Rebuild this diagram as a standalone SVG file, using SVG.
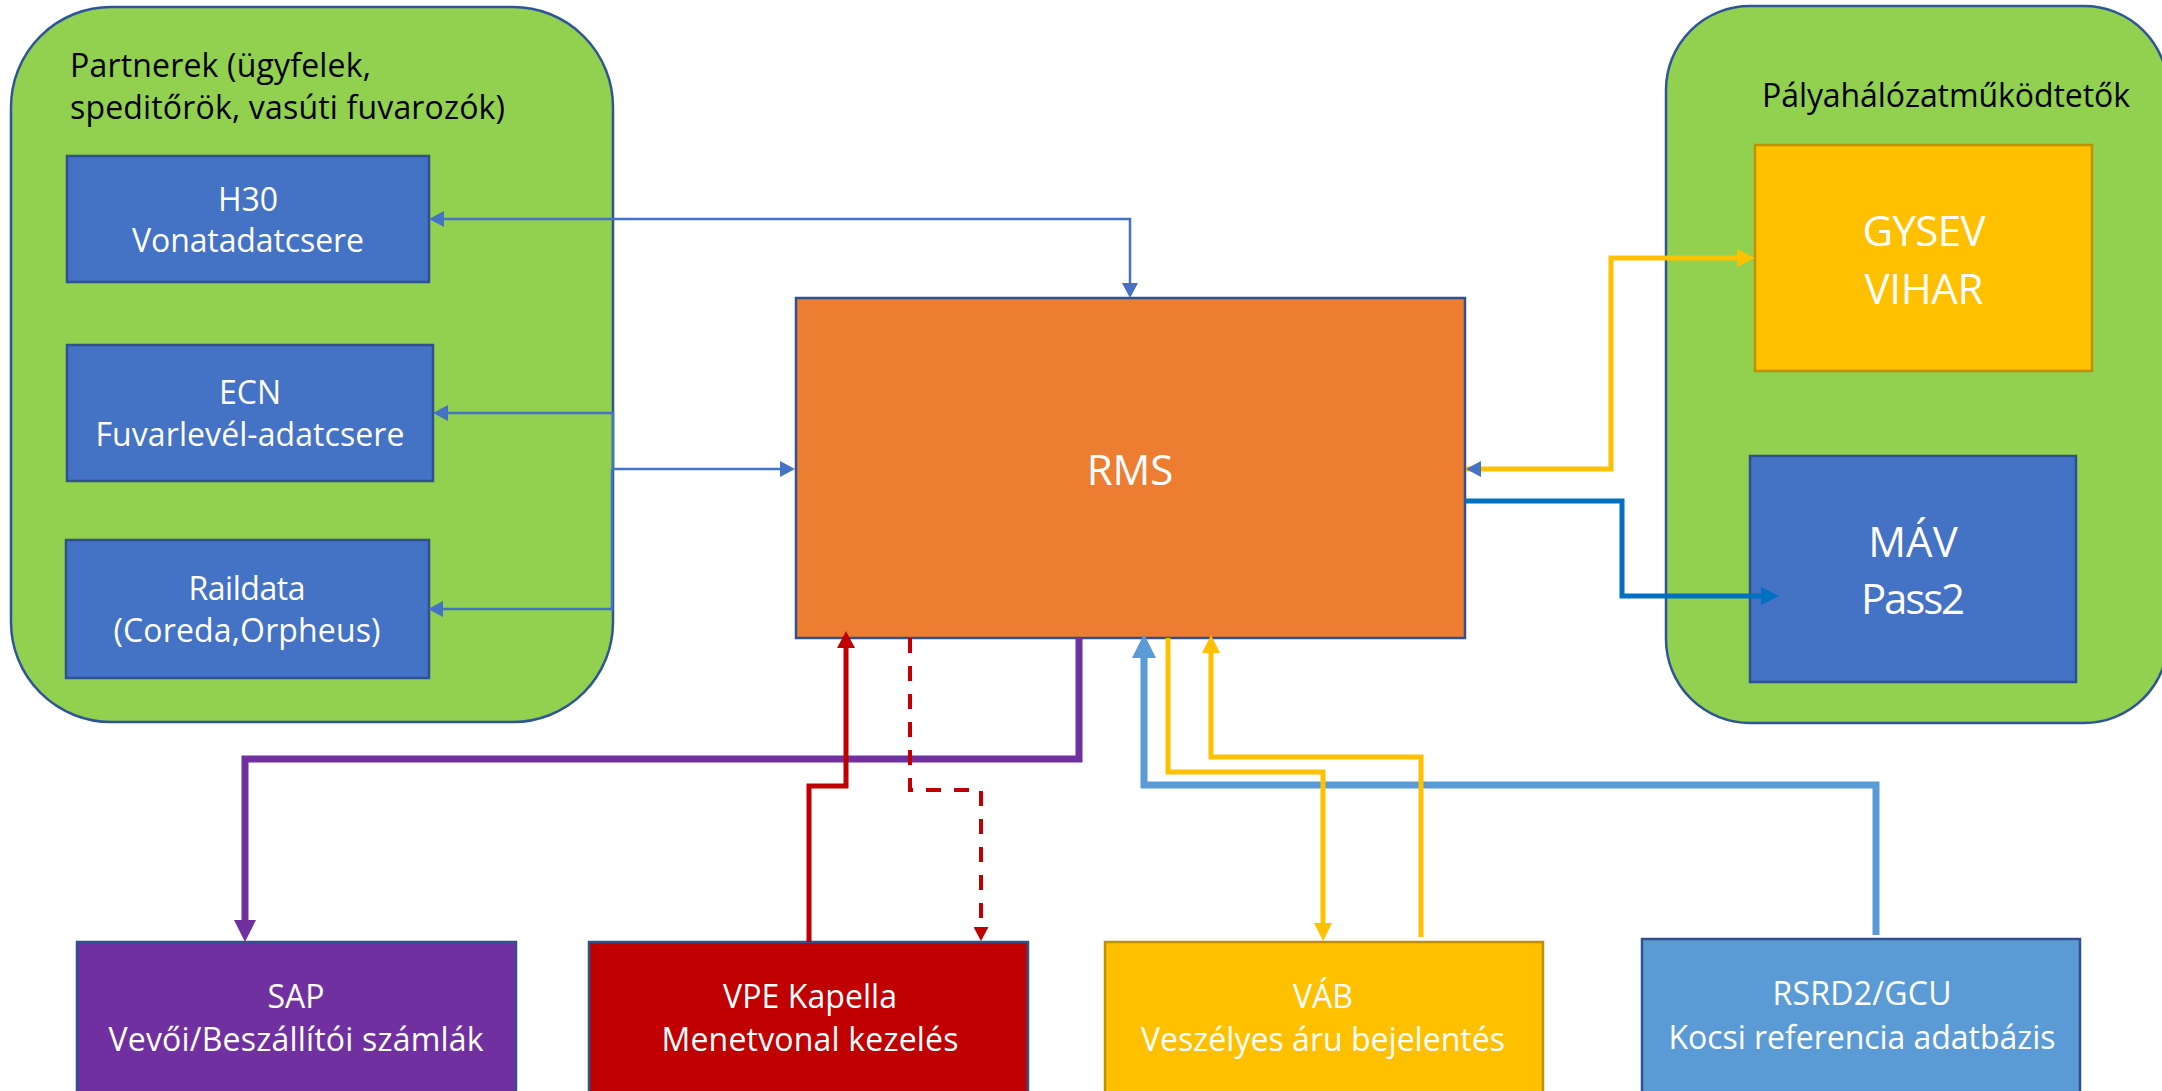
<svg xmlns="http://www.w3.org/2000/svg" width="2162" height="1091" viewBox="0 0 2162 1091">
<defs>
<style>
.cont{fill:#92D050;stroke:#2F5597;stroke-width:2.5}
.bx{stroke:#2F528F;stroke-width:2.5}
.gold{fill:#FFC000;stroke:#BF9000;stroke-width:2.5}
text{font-family:"Open Sans","Noto Sans","DejaVu Sans",sans-serif}
.lbl{fill:#FFFFFF;font-size:32px;text-anchor:middle}
.big{fill:#FFFFFF;font-size:42px;text-anchor:middle}
.ttl{fill:#000000;font-size:32px}
.ln{fill:none;stroke-linejoin:miter;stroke-linecap:butt}
</style>
<marker id="mBlue" markerUnits="userSpaceOnUse" viewBox="0 0 15 16" markerWidth="15" markerHeight="16" refX="1" refY="8" orient="auto-start-reverse"><path d="M0,0L15,8L0,16z" fill="#4472C4"/></marker>
<marker id="mBlueTip" markerUnits="userSpaceOnUse" viewBox="0 0 15 16" markerWidth="15" markerHeight="16" refX="15" refY="8" orient="auto-start-reverse"><path d="M0,0L15,8L0,16z" fill="#4472C4"/></marker>
<marker id="mYel" markerUnits="userSpaceOnUse" viewBox="0 0 18 18" markerWidth="18" markerHeight="18" refX="1" refY="9" orient="auto-start-reverse"><path d="M0,0L18,9L0,18z" fill="#FFC000"/></marker>
<marker id="mMav" markerUnits="userSpaceOnUse" viewBox="0 0 18 18" markerWidth="18" markerHeight="18" refX="1" refY="9" orient="auto-start-reverse"><path d="M0,0L18,9L0,18z" fill="#0070C0"/></marker>
<marker id="mPur" markerUnits="userSpaceOnUse" viewBox="0 0 22 22" markerWidth="22" markerHeight="22" refX="1" refY="11" orient="auto-start-reverse"><path d="M0,0L22,11L0,22z" fill="#7030A0"/></marker>
<marker id="mRed" markerUnits="userSpaceOnUse" viewBox="0 0 17 18" markerWidth="17" markerHeight="18" refX="1" refY="9" orient="auto-start-reverse"><path d="M0,0L17,9L0,18z" fill="#C00000"/></marker>
<marker id="mRedD" markerUnits="userSpaceOnUse" viewBox="0 0 14 15" markerWidth="14" markerHeight="15" refX="1" refY="7.5" orient="auto-start-reverse"><path d="M0,0L14,7.5L0,15z" fill="#C00000"/></marker>
<marker id="mLb" markerUnits="userSpaceOnUse" viewBox="0 0 24 24" markerWidth="24" markerHeight="24" refX="1" refY="12" orient="auto-start-reverse"><path d="M0,0L24,12L0,24z" fill="#5B9BD5"/></marker>
</defs>
<rect width="2162" height="1091" fill="#FFFFFF"/>

<g id="partnerek">
<rect class="cont" x="11" y="7" width="602" height="715" rx="100" ry="100"/>
<text class="ttl" x="70" y="77" textLength="301">Partnerek (ügyfelek,</text>
<text class="ttl" x="70" y="119" textLength="435">speditőrök, vasúti fuvarozók)</text>
</g>
<g id="palyahalozat">
<rect class="cont" x="1666" y="6" width="502" height="717" rx="84" ry="84"/>
<text class="ttl" x="1762" y="107" textLength="368">Pályahálózatműködtetők</text>
</g>

<g id="h30">
<rect class="bx" fill="#4472C4" x="67" y="156" width="362" height="126"/>
<text class="lbl" x="248" y="211">H30</text>
<text class="lbl" x="248" y="252" textLength="232">Vonatadatcsere</text>
</g>
<g id="ecn">
<rect class="bx" fill="#4472C4" x="67" y="345" width="366" height="136"/>
<text class="lbl" x="250" y="404">ECN</text>
<text class="lbl" x="250" y="446" textLength="309">Fuvarlevél-adatcsere</text>
</g>
<g id="raildata">
<rect class="bx" fill="#4472C4" x="66" y="540" width="363" height="138"/>
<text class="lbl" x="247" y="600" textLength="117">Raildata</text>
<text class="lbl" x="247" y="642" textLength="267">(Coreda,Orpheus)</text>
</g>

<g id="rms">
<rect class="bx" fill="#ED7D31" x="796" y="298" width="669" height="340"/>
<text class="big" x="1130" y="485">RMS</text>
</g>

<g id="gysev">
<rect class="gold" x="1755" y="145" width="337" height="226"/>
<text class="big" x="1924" y="246" textLength="123">GYSEV</text>
<text class="big" x="1924" y="304" textLength="119">VIHAR</text>
</g>
<g id="mav">
<rect class="bx" fill="#4472C4" x="1750" y="456" width="326" height="226"/>
<text class="big" x="1913" y="557">MÁV</text>
<text class="big" x="1913" y="614" textLength="104">Pass2</text>
</g>

<g id="sap">
<rect class="bx" fill="#7030A0" x="77" y="942" width="439" height="170"/>
<text class="lbl" x="296" y="1008">SAP</text>
<text class="lbl" x="296" y="1051" textLength="375">Vevői/Beszállítói számlák</text>
</g>
<g id="vpe">
<rect class="bx" fill="#C00000" x="589" y="942" width="439" height="170"/>
<text class="lbl" x="810" y="1008" textLength="174">VPE Kapella</text>
<text class="lbl" x="810" y="1051" textLength="297">Menetvonal kezelés</text>
</g>
<g id="vab">
<rect class="gold" x="1105" y="942" width="438" height="170"/>
<text class="lbl" x="1323" y="1008">VÁB</text>
<text class="lbl" x="1323" y="1051" textLength="364">Veszélyes áru bejelentés</text>
</g>
<g id="rsrd2">
<rect class="bx" fill="#5B9BD5" x="1642" y="939" width="438" height="170"/>
<text class="lbl" x="1862" y="1005" textLength="179">RSRD2/GCU</text>
<text class="lbl" x="1862" y="1049" textLength="387">Kocsi referencia adatbázis</text>
</g>

<g id="connectors">
<path class="ln" stroke="#4472C4" stroke-width="2.5" d="M443,219H1130V284" marker-start="url(#mBlue)" marker-end="url(#mBlue)"/>
<path class="ln" stroke="#4472C4" stroke-width="2.5" d="M613,469V413H447" marker-end="url(#mBlue)"/>
<path class="ln" stroke="#4472C4" stroke-width="2.5" d="M612,469V609H442" marker-end="url(#mBlue)"/>
<path class="ln" stroke="#4472C4" stroke-width="2.5" d="M612,469H781" marker-end="url(#mBlue)"/>
<path class="ln" stroke="#FFC000" stroke-width="5" d="M1466,469H1611V258H1738" marker-start="url(#mBlueTip)" marker-end="url(#mYel)"/>
<path class="ln" stroke="#0070C0" stroke-width="5" d="M1465,501H1622V596H1762" marker-end="url(#mMav)"/>
<path class="ln" stroke="#7030A0" stroke-width="7" d="M1079,638V759H245V921" marker-end="url(#mPur)"/>
<path class="ln" stroke="#C00000" stroke-width="5" d="M809,942V786H846V647" marker-end="url(#mRed)"/>
<path class="ln" stroke="#C00000" stroke-width="4" stroke-dasharray="15 13" d="M910,638V790H981V928" marker-end="url(#mRedD)"/>
<path class="ln" stroke="#5B9BD5" stroke-width="7" d="M1876,935V785H1144V657" marker-end="url(#mLb)"/>
<path class="ln" stroke="#FFC000" stroke-width="5" d="M1168,638V772H1323V924" marker-end="url(#mYel)"/>
<path class="ln" stroke="#FFC000" stroke-width="5" d="M1421,937V757H1211V652" marker-end="url(#mYel)"/>
</g>
</svg>
